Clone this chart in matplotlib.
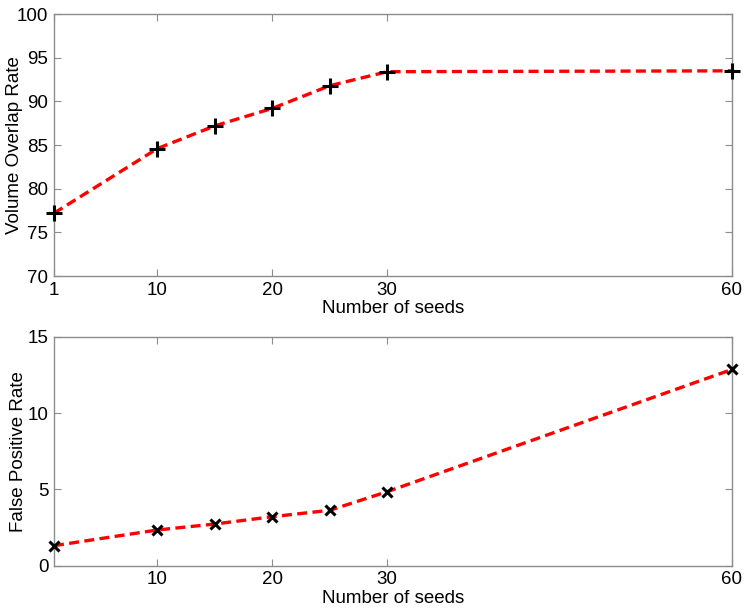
import matplotlib.pyplot as plt

# Datos
semillas = [1, 10, 15, 20, 25, 30, 60]
solapamiento = [77.2, 84.6, 87.2, 89.2, 91.8, 93.4, 93.5]
falsos_positivos = [1.31, 2.34, 2.73, 3.21, 3.63, 4.85, 12.86]

ticks_sup = [1, 10, 20, 30, 60]
ticks_inf = [10, 20, 30, 60]

plt.rcParams['font.family'] = ['Liberation Sans', 'DejaVu Sans']
plt.rcParams['font.size'] = 13.5

fig = plt.figure(figsize=(7.51, 6.12), dpi=100)
ax1 = fig.add_axes([0.0719, 0.549, 0.9028, 0.428])
ax2 = fig.add_axes([0.0719, 0.0757, 0.9028, 0.374])


def estilo(ax):
    for s in ax.spines.values():
        s.set_color('0.55')
        s.set_linewidth(1.0)
    ax.tick_params(direction='in', top=True, right=True, length=5,
                   color='0.55', labelsize=13.5, pad=4)


# Grafica superior
ax1.plot(semillas, solapamiento, linestyle='--', color='red', linewidth=2.4,
         dashes=(3, 1.6), marker='+', markersize=11.5, markeredgewidth=2.2,
         markeredgecolor='black', clip_on=False, zorder=5)
ax1.set_xlim(1, 60)
ax1.set_ylim(70, 100)
ax1.set_xticks(ticks_sup)
ax1.set_yticks([70, 75, 80, 85, 90, 95, 100])
ax1.set_xlabel('Number of seeds', labelpad=1)
ax1.set_ylabel('Volume Overlap Rate')
ax1.yaxis.set_label_coords(-0.046, 0.5)
estilo(ax1)

# Grafica inferior
ax2.plot(semillas, falsos_positivos, linestyle='--', color='red', linewidth=2.4,
         dashes=(3, 1.6), marker='x', markersize=7, markeredgewidth=2.2,
         markeredgecolor='black', clip_on=False, zorder=5)
ax2.set_xlim(1, 60)
ax2.set_ylim(0, 15)
ax2.set_xticks(ticks_inf)
ax2.set_yticks([0, 5, 10, 15])
ax2.set_xlabel('Number of seeds', labelpad=1)
ax2.set_ylabel('False Positive Rate')
ax2.yaxis.set_label_coords(-0.040, 0.5)
estilo(ax2)

fig.savefig('out.png', dpi=100)
